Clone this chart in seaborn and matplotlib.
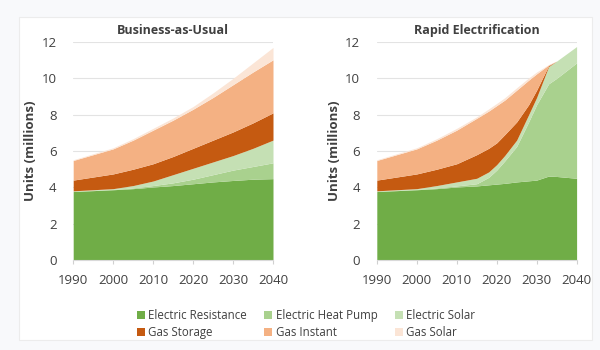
import numpy as np
import matplotlib
matplotlib.use("Agg")
import matplotlib.pyplot as plt
import seaborn as sns
from matplotlib.patches import Patch, Rectangle

# values (millions of units, per category)
categories = ["Electric Resistance", "Electric Heat Pump", "Electric Solar",
              "Gas Storage", "Gas Instant", "Gas Solar"]
colors = ["#70AD47", "#A9D18E", "#C5E0B4", "#C55A11", "#F4B183", "#FBE5D6"]

years_bau = [1990, 1995, 2000, 2005, 2010, 2015, 2020, 2025, 2030, 2035, 2040]
bau_res = [3.77, 3.82, 3.87, 3.93, 4.02, 4.10, 4.20, 4.30, 4.38, 4.45, 4.48]
bau_hp = [0.02, 0.02, 0.02, 0.04, 0.08, 0.15, 0.25, 0.40, 0.57, 0.70, 0.87]
bau_esolar = [0.02, 0.03, 0.04, 0.13, 0.25, 0.45, 0.60, 0.70, 0.80, 1.00, 1.25]
bau_storage = [0.59, 0.70, 0.81, 0.90, 0.95, 1.00, 1.10, 1.20, 1.30, 1.40, 1.50]
bau_instant = [1.08, 1.23, 1.38, 1.60, 1.85, 2.00, 2.15, 2.35, 2.60, 2.80, 2.92]
bau_gsolar = [0.04, 0.05, 0.06, 0.08, 0.10, 0.12, 0.15, 0.25, 0.35, 0.50, 0.68]

years_re = [1990, 1995, 2000, 2005, 2010, 2015, 2018, 2020, 2022, 2025,
            2028, 2030, 2033, 2035, 2040]
re_res = [3.77, 3.82, 3.87, 3.93, 4.02, 4.08, 4.14, 4.18, 4.22, 4.30,
          4.36, 4.40, 4.62, 4.60, 4.50]
re_hp = [0.02, 0.02, 0.02, 0.04, 0.06, 0.12, 0.41, 0.77, 1.23, 1.95,
         3.24, 4.15, 5.08, 5.40, 6.35]
re_esolar = [0.02, 0.03, 0.04, 0.13, 0.22, 0.30, 0.30, 0.30, 0.30, 0.35,
             0.40, 0.40, 0.95, 0.95, 0.90]
re_storage = [0.59, 0.70, 0.81, 0.90, 1.00, 1.30, 1.30, 1.20, 1.15, 1.00,
              0.55, 0.40, 0.05, 0, 0]
re_instant = [1.08, 1.23, 1.38, 1.60, 1.85, 2.00, 2.05, 2.05, 1.90, 1.75,
              1.35, 0.90, 0.04, 0, 0]
re_gsolar = [0.04, 0.05, 0.06, 0.08, 0.10, 0.08, 0.12, 0.12, 0.13, 0.13,
             0.12, 0.10, 0.02, 0, 0]

sns.set_theme(style="white")
plt.rcParams["font.family"] = ["Open Sans", "DejaVu Sans"]
txt = "#404040"

fig = plt.figure(figsize=(6, 3.5), dpi=100, facecolor="#F8F9FB")
# white card behind the charts
fig.patches.append(Rectangle((19 / 600, 1 - 340 / 350), 573 / 600, 323 / 350,
                             transform=fig.transFigure, facecolor="white",
                             edgecolor="#ECECEC", lw=0.8, zorder=-10))

ax1 = fig.add_axes([0.122, 0.257, 0.333, 0.623])
ax2 = fig.add_axes([0.628, 0.257, 0.333, 0.623])

panels = [
    (ax1, "Business-as-Usual", years_bau,
     [bau_res, bau_hp, bau_esolar, bau_storage, bau_instant, bau_gsolar]),
    (ax2, "Rapid Electrification", years_re,
     [re_res, re_hp, re_esolar, re_storage, re_instant, re_gsolar]),
]

for ax, title, yrs, series in panels:
    ax.set_facecolor("none")
    ax.yaxis.grid(True, color="#E3E3E3", lw=0.8)
    ax.set_axisbelow(True)
    ax.stackplot(yrs, *series, colors=colors, linewidth=0, zorder=2)
    ax.set_xlim(1990, 2040)
    ax.set_ylim(0, 12)
    ax.set_xticks(range(1990, 2041, 10))
    ax.set_yticks(range(0, 13, 2))
    ax.tick_params(axis="x", labelsize=9.5, colors=txt, length=3, width=0.8,
                   pad=7, bottom=True, color="#D0D0D0")
    ax.tick_params(axis="y", labelsize=9.5, colors=txt, length=0, pad=12)
    ax.set_title(title, fontsize=9, fontweight="bold", color=txt, pad=6)
    ax.set_ylabel("Units (millions)", fontsize=9.5, fontweight="bold", color=txt, labelpad=3)
    sns.despine(ax=ax, left=True)
    ax.spines["bottom"].set_color("#D9D9D9")
    ax.spines["bottom"].set_linewidth(0.8)

handles = [Patch(facecolor=c, edgecolor="none") for c in colors]
order = [0, 3, 1, 4, 2, 5]
fig.legend([handles[i] for i in order], [categories[i] for i in order],
           loc="center", bbox_to_anchor=(0.51, 0.074), ncol=3, frameon=False,
           fontsize=8.3, handlelength=0.7, handleheight=0.7, handletextpad=0.3,
           columnspacing=1.5, labelspacing=0.4, labelcolor=txt)

fig.savefig("out.png", dpi=100, facecolor=fig.get_facecolor())
